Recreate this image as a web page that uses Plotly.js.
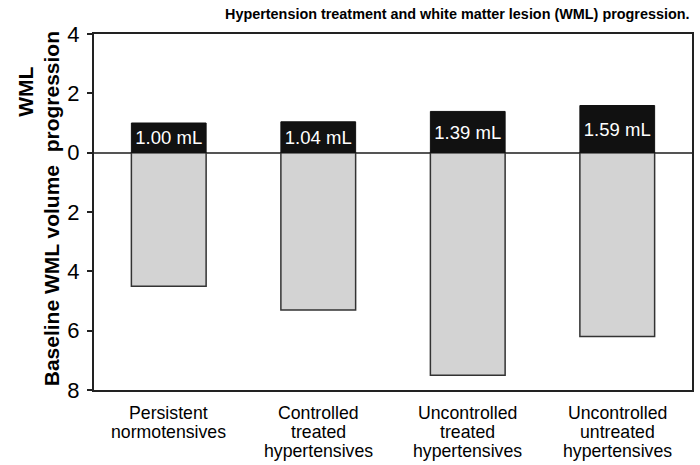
<!DOCTYPE html>
<html>
<head>
<meta charset="utf-8">
<script src="https://cdn.plot.ly/plotly-3.0.1.min.js"></script>
<style>html,body{margin:0;padding:0;background:#fff;}#chart{width:700px;height:465px;}</style>
</head>
<body>
<div id="chart"></div>
<script>
const groupLines = [
  ["Persistent", "normotensives"],
  ["Controlled", "treated", "hypertensives"],
  ["Uncontrolled", "treated", "hypertensives"],
  ["Uncontrolled", "untreated", "hypertensives"]
];
const groups = groupLines.map(l => l.join(" "));
const progression = [1.00, 1.04, 1.39, 1.59];
const progressionLabels = ["1.00 mL", "1.04 mL", "1.39 mL", "1.59 mL"];
const baselineVolume = [4.5, 5.3, 7.5, 6.2];
const yTickVals = [4, 2, 0, -2, -4, -6, -8];
const yTickText = ["4", "2", "0", "2", "4", "6", "8"];

const FONT = "Arial, Liberation Sans, sans-serif";

const traces = [
  {
    type: "bar", x: groups, y: baselineVolume.map(v => -v),
    marker: {color: "#d3d3d3", line: {color: "#333", width: 1.5}},
    width: 0.5, hoverinfo: "skip", showlegend: false
  },
  {
    type: "bar", x: groups, y: progression,
    text: progressionLabels, textposition: "inside", insidetextanchor: "middle",
    constraintext: "none",
    textfont: {color: "#fff", size: 18.5, family: FONT},
    marker: {color: "#111", line: {color: "#111", width: 1}},
    width: 0.5, hoverinfo: "skip", showlegend: false, cliponaxis: false
  }
];

const annotations = [
  {text: "<b>Hypertension treatment and white matter lesion (WML) progression.</b>",
   xref: "paper", yref: "paper", x: 1, y: 1, yshift: 20, xanchor: "right", yanchor: "middle",
   showarrow: false, font: {size: 14.4, color: "#000", family: FONT}},
  {text: "<b>WML</b>", xref: "paper", yref: "y", x: 0, xshift: -81.5, y: 2.05, textangle: -90,
   showarrow: false, font: {size: 21, color: "#000", family: FONT}},
  {text: "<b>progression</b>", xref: "paper", yref: "y", x: 0, xshift: -56, y: 2.05, textangle: -90,
   showarrow: false, font: {size: 21, color: "#000", family: FONT}},
  {text: "<b>Baseline WML volume</b>", xref: "paper", yref: "y", x: 0, xshift: -56, y: -4.15, textangle: -90,
   showarrow: false, font: {size: 21, color: "#000", family: FONT}}
];
groupLines.forEach((lines, i) => {
  lines.forEach((line, j) => {
    annotations.push({
      text: line, xref: "x", yref: "paper", x: groups[i], y: 0,
      yshift: -(23 + 19 * j), yanchor: "middle", xanchor: "center",
      showarrow: false, font: {size: 17.7, color: "#000", family: FONT}
    });
  });
});

const layout = {
  width: 700, height: 465,
  margin: {l: 94, r: 8, t: 34, b: 75},
  barmode: "overlay",
  paper_bgcolor: "#fff", plot_bgcolor: "#fff",
  font: {family: FONT, color: "#000"},
  xaxis: {
    range: [-0.5, 3.5], showgrid: false, zeroline: false,
    showline: true, linecolor: "#222", linewidth: 2, mirror: true,
    ticks: "", showticklabels: false
  },
  yaxis: {
    range: [-8, 4], tickvals: yTickVals, ticktext: yTickText,
    showgrid: false, zeroline: true, zerolinecolor: "#555", zerolinewidth: 2,
    showline: true, linecolor: "#222", linewidth: 2, mirror: true,
    ticks: "outside", ticklen: 5, tickwidth: 2, tickcolor: "#222",
    ticklabelstandoff: 3,
    tickfont: {size: 22, color: "#000", family: FONT}
  },
  annotations: annotations
};

Plotly.newPlot("chart", traces, layout, {displayModeBar: false, staticPlot: true});
</script>
</body>
</html>
